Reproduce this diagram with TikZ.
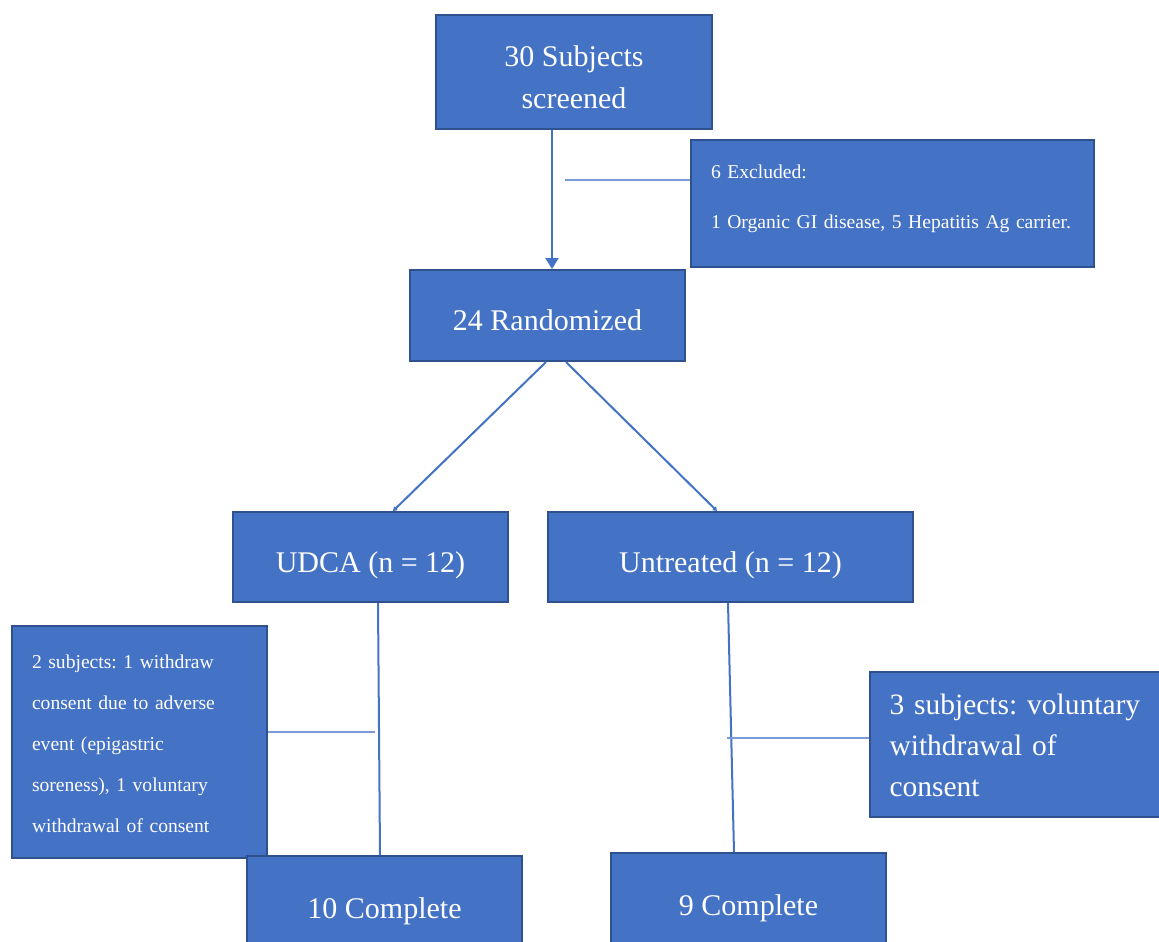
\documentclass[tikz,border=0pt]{standalone}
\usepackage{fontspec}
\setmainfont{Liberation Serif}
\frenchspacing
\usetikzlibrary{arrows.meta,calc}
\definecolor{boxfill}{HTML}{4472C4}
\definecolor{boxedge}{HTML}{2F528F}
\definecolor{conn}{HTML}{4472C4}
\definecolor{thinconn}{HTML}{7A9BD6}
\tikzset{
  box/.style={rectangle, fill=boxfill, draw=boxedge, line width=2pt, text=white, inner sep=0pt, align=center},
  bigtext/.style={font=\fontsize{30}{43}\selectfont, text height=37pt, text depth=6.5pt},
  smalltext/.style={font=\fontsize{19.6}{41}\selectfont},
  mainline/.style={draw=conn, line width=2pt},
  noteline/.style={draw=thinconn, line width=1.4pt},
}
\begin{document}
\begin{tikzpicture}[x=1pt,y=-1pt]
\useasboundingbox (0,0) rectangle (1159,942);
\clip (0,0) rectangle (1159,942);
% boxes
\node[box,bigtext,text height=72pt,text depth=0pt,minimum width=276pt,minimum height=114pt] (s) at (574,72) {30 Subjects\\[-1pt]screened};
\node[box,smalltext,text height=4.3pt,text depth=54.3pt,minimum width=403pt,minimum height=127pt,text width=363pt,align=left] (ex) at (892.5,203.5) {6 Excluded:\\[9pt]1 Organic GI disease, 5 Hepatitis Ag carrier.};
\node[box,bigtext,minimum width=275pt,minimum height=91pt] (r) at (547.5,315.5) {24 Randomized};
\node[box,bigtext,minimum width=275pt,minimum height=90pt] (u) at (370.5,557) {UDCA (n = 12)};
\node[box,bigtext,minimum width=365pt,minimum height=90pt] (t) at (730.5,557) {Untreated (n = 12)};
\node[box,smalltext,text height=17pt,text depth=164pt,minimum width=255pt,minimum height=232pt,text width=215pt,align=left] (ln) at (139.5,742) {2 subjects: 1 withdraw\\consent due to adverse\\event (epigastric\\soreness), 1 voluntary\\withdrawal of consent};
\node[box,font=\fontsize{29.5}{41}\selectfont,text height=22.4pt,text depth=82pt,minimum width=300pt,minimum height=145pt,text width=260pt,align=left] (rn) at (1019.5,744.5) {3 subjects: voluntary\\withdrawal of\\consent};
\node[box,bigtext,minimum width=275pt,minimum height=93.5pt] (c10) at (384.5,902.75) {10 Complete};
\node[box,bigtext,minimum width=275pt,minimum height=93.5pt] (c9) at (748.5,899.75) {9 Complete};
% connectors
\draw[mainline,-{Triangle[width=13pt,length=11pt]}] ([xshift=-22pt]s.south) -- ([xshift=4.5pt]r.north);
\coordinate (e1) at (565,180);
\draw[noteline] (e1) -- (e1 -| ex.west);
\draw[mainline,-{Triangle[width=5pt,length=4pt]}] ([xshift=-1.5pt]r.south) -- ([xshift=22.5pt]u.north);
\draw[mainline,-{Triangle[width=5pt,length=4pt]}] ([xshift=18.5pt]r.south) -- ([xshift=-13.5pt]t.north);
\draw[mainline] ([xshift=7.5pt]u.south) -- ([xshift=-4.5pt]c10.north);
\draw[mainline] ([xshift=-2.5pt]t.south) -- ([xshift=-14.5pt]c9.north);
\coordinate (l1) at (375,732);
\draw[noteline] (l1 -| ln.east) -- (l1);
\coordinate (r1) at (727,738);
\draw[noteline] (r1) -- (r1 -| rn.west);
\end{tikzpicture}
\end{document}
